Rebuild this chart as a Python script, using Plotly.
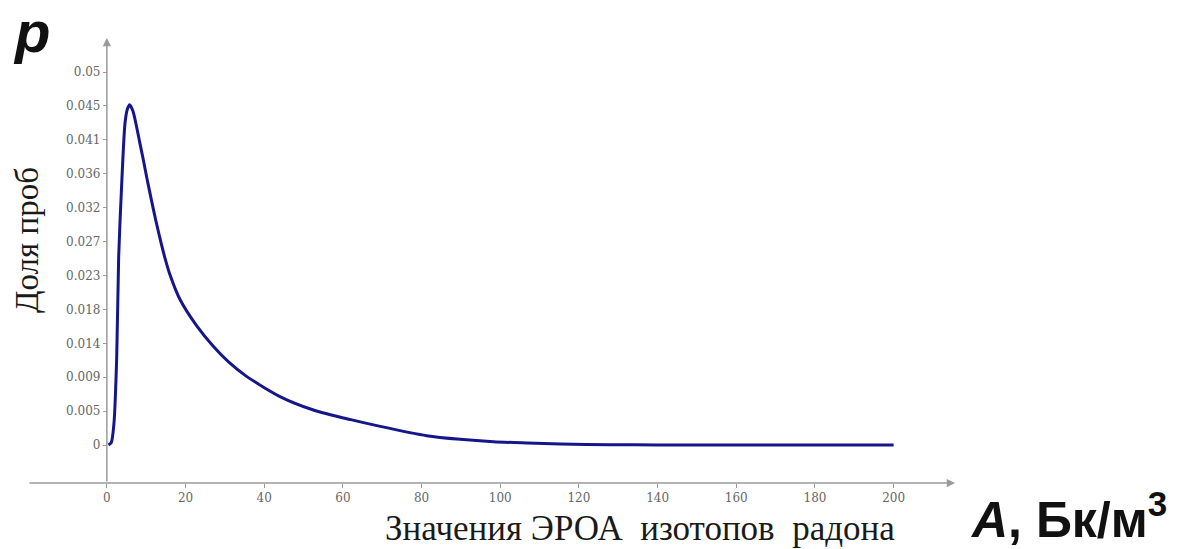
import plotly.graph_objects as go

# Radon progeny EEC values (Bq/m3) and the share of samples at each value
activity = [0.4, 1.1, 1.8, 2.5, 3.0, 3.7, 4.6, 5.2, 5.8, 6.6, 7.5, 8.3, 9.2, 10.2, 11.3,
            12.4, 13.5, 14.7, 16.0, 18.6, 22.8, 27.1, 31.0, 35.5, 44.0, 52.5, 62.0,
            69.5, 81.3, 89.8, 98.3, 106.8, 115.3, 128.0, 140.0, 160.0, 180.0, 200.0]
share = [0.0, 0.0003, 0.0029, 0.0118, 0.0252, 0.0342, 0.0431, 0.0450, 0.0456, 0.0448,
         0.0428, 0.0407, 0.0384, 0.0357, 0.0329, 0.0302, 0.0277, 0.0252, 0.0229,
         0.0195, 0.0160, 0.0132, 0.0111, 0.0092, 0.0065, 0.0047, 0.0034, 0.0025,
         0.00125, 0.00076, 0.00044, 0.00027, 0.00013, 0.00004, 0.00002, 0.00001,
         0.0, 0.0]

x_ticks = [0, 20, 40, 60, 80, 100, 120, 140, 160, 180, 200]
y_tick_vals = [i * 0.05 / 11 for i in range(12)]
y_tick_text = ["0", "0.005", "0.009", "0.014", "0.018", "0.023", "0.027",
               "0.032", "0.036", "0.041", "0.045", "0.05"]

W, H = 1189, 549
L, R, T, B = 28, 955, 38, 483          # plot area in pixels
X_RANGE = [-20.05, 215.6]
Y_RANGE = [-0.00509, 0.05456]

AXIS_GREY = "#9a9a9a"
TICK_FONT = dict(family="DejaVu Serif", size=12, color="#666666")


def px_x(p):
    return (p - L) / (R - L)


def px_y(p):
    return (B - p) / (B - T)


fig = go.Figure(
    go.Scatter(
        x=activity, y=share, mode="lines",
        line=dict(color="#16168c", width=3, shape="spline", smoothing=0.7),
        hoverinfo="skip", showlegend=False,
    )
)

fig.update_layout(
    width=W, height=H,
    margin=dict(l=L, r=W - R, t=T, b=H - B, pad=0),
    paper_bgcolor="white", plot_bgcolor="white",
    xaxis=dict(
        range=X_RANGE, showgrid=False, zeroline=False, showline=False,
        tickvals=x_ticks, ticks="outside", ticklen=4, tickwidth=1.2,
        tickcolor=AXIS_GREY, tickfont=TICK_FONT, fixedrange=True,
    ),
    yaxis=dict(
        range=Y_RANGE, showgrid=False, zeroline=False, showline=False,
        anchor="free", position=(0 - X_RANGE[0]) / (X_RANGE[1] - X_RANGE[0]),
        tickvals=y_tick_vals, ticktext=y_tick_text,
        ticks="outside", ticklen=4, tickwidth=1.2,
        tickcolor=AXIS_GREY, tickfont=TICK_FONT, fixedrange=True,
    ),
)

# axis lines with arrowheads
arrow = dict(text="", showarrow=True, arrowhead=2, arrowsize=1.1, arrowwidth=1.5,
             arrowcolor=AXIS_GREY, xref="x", yref="y", axref="x", ayref="y")
fig.add_annotation(x=X_RANGE[1], y=Y_RANGE[0], ax=X_RANGE[0], ay=Y_RANGE[0], **arrow)
fig.add_annotation(x=0, y=Y_RANGE[1], ax=0, ay=Y_RANGE[0], **arrow)

# axis captions
fig.add_annotation(
    text="<b><i>p</i></b>", xref="paper", yref="paper",
    x=px_x(31), y=px_y(31), xanchor="center", yanchor="middle", showarrow=False,
    font=dict(family="Liberation Sans", size=58, color="#111111"),
)
fig.add_annotation(
    text="Доля проб", textangle=-90, xref="paper", yref="paper",
    x=px_x(27), y=px_y(240), xanchor="center", yanchor="middle", showarrow=False,
    font=dict(family="Liberation Serif", size=33, color="#1a1a1a"),
)
fig.add_annotation(
    text="Значения ЭРОА\u00a0 изотопов\u00a0 радона", xref="paper", yref="paper",
    x=px_x(640), y=px_y(528), xanchor="center", yanchor="middle", showarrow=False,
    font=dict(family="Liberation Serif", size=35, color="#1a1a1a"),
)
fig.add_annotation(
    text="<b><i>A</i>, Бк/м<sup>3</sup></b>", xref="paper", yref="paper",
    x=px_x(1068), y=px_y(516), xanchor="center", yanchor="middle", showarrow=False,
    font=dict(family="Liberation Sans", size=50, color="#111111"),
)

fig.write_html("out.html")
